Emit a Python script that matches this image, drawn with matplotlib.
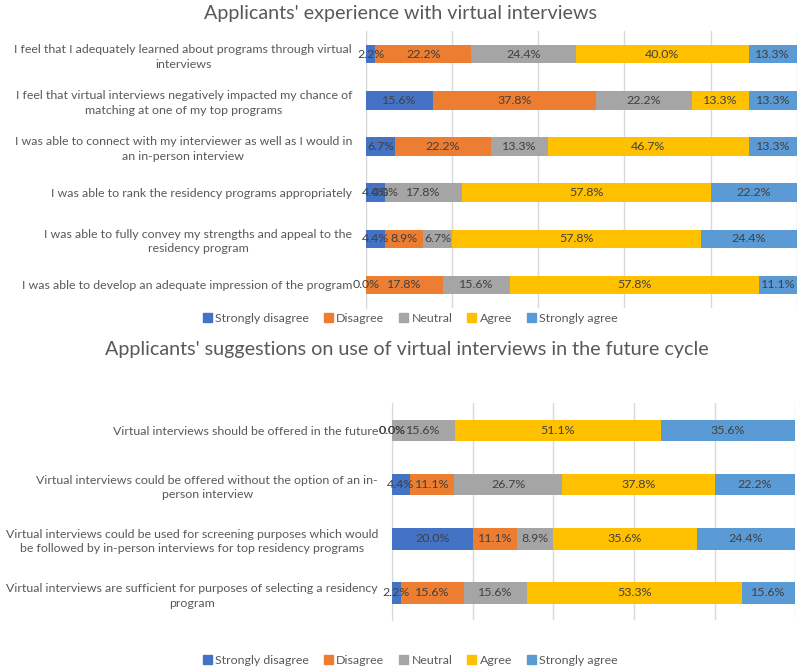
import matplotlib
matplotlib.use("Agg")
from matplotlib import pyplot as plt
from matplotlib.patches import Patch

responses = ['Strongly disagree', 'Disagree', 'Neutral', 'Agree', 'Strongly agree']
colors = ['#4472C4', '#ED7D31', '#A5A5A5', '#FFC000', '#5B9BD5']

# top chart: experience with virtual interviews (top row first)
exp_items = [
    "I feel that I adequately learned about programs through virtual\ninterviews",
    "I feel that virtual interviews negatively impacted my chance of\nmatching at one of my top programs",
    "I was able to connect with my interviewer as well as I would in\nan in-person interview",
    "I was able to rank the residency programs appropriately",
    "I was able to fully convey my strengths and appeal to the\nresidency program",
    "I was able to develop an adequate impression of the program",
]
exp_strongly_disagree = [2.2, 15.6, 6.7, 4.4, 4.4, 0.0]
exp_disagree = [22.2, 37.8, 22.2, 0.0, 8.9, 17.8]
exp_neutral = [24.4, 22.2, 13.3, 17.8, 6.7, 15.6]
exp_agree = [40.0, 13.3, 46.7, 57.8, 57.8, 57.8]
exp_strongly_agree = [13.3, 13.3, 13.3, 22.2, 24.4, 11.1]

# bottom chart: suggestions for the future cycle
sug_items = [
    "Virtual interviews should be offered in the future",
    "Virtual interviews could be offered without the option of an in-\nperson interview",
    "Virtual interviews could be used for screening purposes which would\nbe followed by in-person interviews for top residency programs",
    "Virtual interviews are sufficient for purposes of selecting a residency\nprogram",
]
sug_strongly_disagree = [0.0, 4.4, 20.0, 2.2]
sug_disagree = [0.0, 11.1, 11.1, 15.6]
sug_neutral = [15.6, 26.7, 8.9, 15.6]
sug_agree = [51.1, 37.8, 35.6, 53.3]
sug_strongly_agree = [35.6, 22.2, 24.4, 15.6]

plt.rcParams['font.family'] = ['Lato', 'DejaVu Sans']
txt = '#595959'
fs = 8.9


def stacked(ax, items, series, title, title_x, title_y, legend_y):
    ys = list(range(len(items)))
    left = [0.0] * len(items)
    for name, vals, c in zip(responses, series, colors):
        bars = ax.barh(ys, vals, left=left, height=0.4, color=c, label=name, zorder=3)
        anns = ax.bar_label(bars, labels=['%.1f%%' % v for v in vals], label_type='center',
                            fontsize=fs, color='#404040')
        for a in anns:
            a.set_zorder(10)
            a.set_annotation_clip(False)
            a.set_clip_on(False)
        left = [l + v for l, v in zip(left, vals)]
    ax.set_xlim(0, 100)
    ax.set_ylim(len(items) - 0.5, -0.5)
    ax.set_yticks(ys)
    ax.set_yticklabels(items, fontsize=fs, color=txt)
    for t in ax.get_yticklabels():
        t.set_multialignment('center')
        t.set_linespacing(1.4)
    ax.tick_params(axis='y', length=0, pad=10)
    ax.tick_params(axis='x', length=0, labelbottom=False)
    ax.set_xticks([0, 20, 40, 60, 80, 100])
    ax.grid(axis='x', color='#D9D9D9', linewidth=1, zorder=0)
    for s in ['top', 'right', 'bottom']:
        ax.spines[s].set_visible(False)
    ax.spines['left'].set_color('#D9D9D9')
    fig.text(title_x, title_y, title, ha='center', va='center', fontsize=14.2, color=txt)
    handles = [Patch(color=c) for c in colors]
    fig.legend(handles, responses, loc='center', bbox_to_anchor=(0.513, legend_y), ncol=5,
               frameon=False, fontsize=fs, labelcolor=txt, handlelength=0.7, handleheight=0.7,
               handletextpad=0.3, columnspacing=1.2)


fig = plt.figure(figsize=(8, 6.69), dpi=100)
ax1 = fig.add_axes([0.4575, 0.5396, 0.5385, 0.414])
ax2 = fig.add_axes([0.49, 0.0732, 0.504, 0.324])

stacked(ax1, exp_items, [exp_strongly_disagree, exp_disagree, exp_neutral, exp_agree, exp_strongly_agree],
        "Applicants' experience with virtual interviews", 0.5, 1 - 13 / 669, 1 - 318 / 669)
stacked(ax2, sug_items, [sug_strongly_disagree, sug_disagree, sug_neutral, sug_agree, sug_strongly_agree],
        "Applicants' suggestions on use of virtual interviews in the future cycle", 0.508, 1 - 349 / 669,
        1 - 660 / 669)

plt.savefig('out.png', dpi=100)
